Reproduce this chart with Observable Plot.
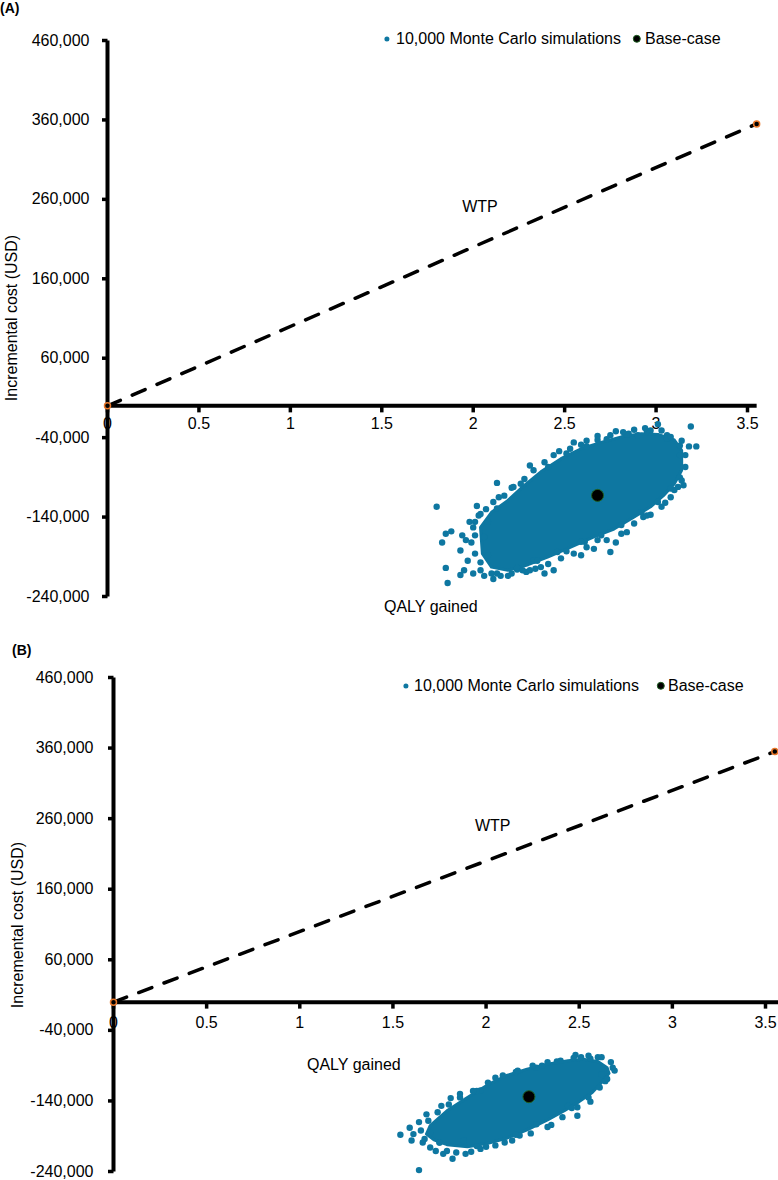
<!DOCTYPE html>
<html>
<head>
<meta charset="utf-8">
<script src="https://cdn.jsdelivr.net/npm/d3@7"></script>
<script src="https://cdn.jsdelivr.net/npm/@observablehq/plot@0.6"></script>
<style>
  body { margin: 0; background: #fff; color: #000; font-family: "Liberation Sans", Arial, sans-serif; }
  #fig { position: relative; width: 778px; height: 1180px; overflow: hidden; background: #fff; }
  #fig svg { position: absolute; left: 0; }
  .lbl { position: absolute; font-size: 16px; line-height: 16px; white-space: nowrap; transform: translateY(-50%); }
  .panel { position: absolute; font-size: 14px; line-height: 14px; font-weight: bold; transform: translateY(-50%); }
  .ytitle { position: absolute; font-size: 16px; line-height: 16px; white-space: nowrap; transform: translate(-50%, -50%) rotate(-90deg); }
  .sw { position: absolute; border-radius: 50%; transform: translate(-50%, -50%); box-sizing: border-box; }
</style>
</head>
<body>
<div id="fig"></div>
<script>
// ---- Axis ticks ----
const qalyTicks = [0, 0.5, 1, 1.5, 2, 2.5, 3, 3.5];
const costTicks = [-240000, -140000, -40000, 60000, 160000, 260000, 360000, 460000];

// ---- Willingness-to-pay threshold line (USD per QALY) ----
const wtpPerQaly = 100000;
const wtpQaly = [0, 3.55];

// ---- Panel A: base case and probabilistic sensitivity analysis cloud ----
const baseA = [2.68, -112700];
// dense core of the 10,000 simulations, outline as [QALY, cost]
const coreA = [
  [2.04, -153000], [2.10, -134000], [2.19, -119000], [2.26, -104000], [2.37, -83000],
  [2.48, -66500], [2.59, -54000], [2.70, -46000], [2.81, -39000], [2.92, -35000],
  [3.01, -36000], [3.10, -43000], [3.14, -56000], [3.14, -81000], [3.10, -98000],
  [3.04, -113000], [2.97, -127000], [2.88, -140000], [2.77, -155000], [2.66, -165000],
  [2.53, -178000], [2.41, -190000], [2.30, -200000], [2.19, -207000], [2.10, -203000],
  [2.05, -186000]
];
// individual simulations around the edge of the cloud
const simsA = [
  [1.80, -127000], [1.85, -161000], [1.88, -158000], [1.83, -172000], [1.93, -182000],
  [1.85, -204000], [1.86, -223000], [1.93, -213000], [1.98, -146000], [2.02, -126000],
  [2.03, -138000], [2.13, -97000], [2.14, -115000], [2.21, -103000], [2.31, -75000],
  [2.47, -57000], [2.55, -46000], [2.62, -44000], [2.68, -38000], [2.78, -32000],
  [2.85, -35000], [2.90, -37000], [2.97, -31000], [3.01, -23000], [3.06, -37000],
  [3.19, -26000], [3.22, -51000], [3.18, -51000], [3.14, -44000], [3.15, -100000],
  [3.10, -106000], [3.05, -122000], [2.97, -137000], [2.93, -140000], [2.84, -159000],
  [2.78, -172000], [2.75, -184000], [2.68, -169000], [2.61, -171000], [2.44, -207000],
  [2.39, -211000], [2.34, -205000], [2.29, -209000], [2.24, -206000], [2.19, -214000],
  [2.11, -218000], [2.06, -214000], [2.00, -211000], [1.95, -207000], [1.97, -195000],
  [1.94, -163000], [1.99, -172000], [2.01, -186000], [2.04, -197000], [2.51, -183000],
  [2.59, -188000], [2.66, -180000], [2.33, -195000],
  [2.26, -98000], [2.41, -77000], [2.51, -60000], [2.62, -51000], [2.73, -42000],
  [2.84, -36000], [2.95, -32000], [3.06, -41000], [3.13, -62000], [3.13, -90000],
  [3.08, -104000], [3.01, -121000], [2.92, -134000], [2.81, -150000], [2.70, -163000],
  [2.59, -171000], [2.46, -184000], [2.35, -195000], [2.24, -204000], [2.13, -211000],
  [2.08, -188000], [2.06, -165000], [2.08, -146000], [2.13, -129000],
  [1.96, -169000], [2.00, -153000], [2.01, -163000], [2.04, -207000], [2.10, -211000],
  [2.15, -214000], [2.21, -211000], [2.27, -207000], [2.31, -207000], [2.37, -203000],
  [2.41, -199000], [2.48, -192000], [2.55, -186000], [2.62, -178000], [2.73, -169000],
  [2.81, -161000], [2.88, -148000], [2.95, -138000], [3.03, -127000], [3.08, -115000],
  [3.12, -102000], [3.14, -94000], [3.16, -77000], [3.16, -62000], [3.13, -50000],
  [3.08, -39000], [3.03, -31000], [2.94, -28000], [2.88, -30000], [2.82, -33000],
  [2.75, -37000], [2.68, -43000], [2.59, -49000], [2.53, -54000], [2.44, -62000],
  [2.39, -71000], [2.33, -81000], [2.28, -92000], [2.22, -102000], [2.17, -113000],
  [2.11, -121000], [2.07, -130000], [2.04, -136000], [2.01, -146000]
];

// ---- Panel B ----
const baseB = [2.23, -134000];
const coreB = [
  [1.68, -187000], [1.70, -175000], [1.79, -154000], [1.90, -135000], [2.01, -117000],
  [2.11, -104000], [2.22, -95000], [2.33, -88000], [2.44, -83000], [2.52, -81000],
  [2.60, -84000], [2.65, -93000], [2.66, -101000], [2.62, -114000], [2.57, -128000],
  [2.50, -141000], [2.42, -154000], [2.33, -167000], [2.22, -181000], [2.11, -193000],
  [2.01, -200000], [1.90, -205000], [1.79, -202000], [1.72, -195000]
];
const simsB = [
  [1.54, -188000], [1.59, -178000], [1.61, -187000], [1.64, -170000], [1.66, -199000],
  [1.68, -159000], [1.73, -211000], [1.76, -147000], [1.81, -136000], [1.86, -130000],
  [1.77, -215000], [1.82, -222000], [1.89, -215000], [1.64, -238000], [2.48, -75000],
  [2.51, -78000], [2.60, -78000], [2.68, -93000], [2.56, -141000], [2.49, -161000],
  [2.35, -174000], [2.18, -189000], [2.10, -199000], [2.00, -205000], [2.05, -107000],
  [1.97, -125000], [2.27, -93000], [2.38, -84000], [2.62, -102000], [2.44, -147000],
  [2.27, -173000], [1.88, -196000], [1.70, -185000],
  [1.95, -126000], [2.16, -99000], [2.30, -90000], [2.56, -80000], [2.64, -112000],
  [2.46, -150000], [2.16, -188000], [1.95, -204000], [1.75, -199000],
  [1.60, -196000], [1.65, -182000], [1.67, -194000], [1.70, -206000], [1.75, -199000],
  [1.79, -211000], [1.84, -213000], [1.92, -212000], [1.97, -208000], [2.05, -203000],
  [2.14, -196000], [2.24, -186000], [2.33, -177000], [2.41, -163000], [2.49, -149000],
  [2.55, -135000], [2.61, -121000], [2.65, -109000], [2.69, -97000], [2.67, -85000],
  [2.62, -78000], [2.55, -76000], [2.47, -79000], [2.40, -83000], [2.33, -85000],
  [2.25, -90000], [2.17, -97000], [2.09, -104000], [2.01, -114000], [1.93, -126000],
  [1.86, -135000], [1.80, -145000], [1.74, -156000], [1.69, -168000]
];

// ---- Styling ----
const FONT = '"Liberation Sans", Arial, sans-serif';
const SIM_COLOR = "#0e77a1";
const BASE_STROKE = "#1f5f22";
const WTP_END = "#e8772a";
const AXIS_W = 4;

const fmt = (v) => v.toLocaleString("en-US");
const wtp = wtpQaly.map((q) => ({ q, cost: q * wtpPerQaly }));

const fig = document.getElementById("fig");

function panel(cfg, core, sims, base) {
  const W = 778;
  const xDomain = [0, 3.5];
  const yDomain = [-240000, 460000];
  // convert a tick length in pixels into data units of each scale
  const xPerPx = (xDomain[1] - xDomain[0]) / (W - cfg.ml - cfg.mr);
  const yPerPx = (yDomain[1] - yDomain[0]) / (cfg.height - cfg.mt - cfg.mb);
  const svg = Plot.plot({
    width: W,
    height: cfg.height,
    marginLeft: cfg.ml, marginRight: cfg.mr, marginTop: cfg.mt, marginBottom: cfg.mb,
    x: { domain: xDomain, axis: null },
    y: { domain: yDomain, axis: null },
    style: { fontFamily: FONT, fontSize: "16px", overflow: "visible", background: "transparent", color: "#000" },
    marks: [
      // axis lines crossing at the origin
      Plot.link([0], { x1: 0, x2: 0, y1: yDomain[0], y2: yDomain[1], stroke: "#000", strokeWidth: AXIS_W, strokeLinecap: "butt" }),
      Plot.link([0], { x1: 0, x2: cfg.xEnd, y1: 0, y2: 0, stroke: "#000", strokeWidth: AXIS_W, strokeLinecap: "butt" }),
      // short tick marks: below the QALY axis, left of the cost axis
      Plot.link(qalyTicks, { x1: (d) => d, x2: (d) => d, y1: 0, y2: -6.5 * yPerPx, stroke: "#000", strokeWidth: 3.5, strokeLinecap: "butt" }),
      Plot.link(costTicks, { y1: (d) => d, y2: (d) => d, x1: 0, x2: -5.5 * xPerPx, stroke: "#000", strokeWidth: 3.5, strokeLinecap: "butt" }),
      // tick labels
      Plot.text(qalyTicks, { x: (d) => d, y: 0, dy: cfg.xLabelDy, text: (d) => String(d), fontSize: 16, fontFamily: FONT, fill: "#000" }),
      Plot.text(costTicks, { x: 0, y: (d) => d, dx: cfg.yLabelDx, text: fmt, textAnchor: "end", fontSize: 16, fontFamily: FONT, fill: "#000" }),
      // Monte Carlo cloud
      Plot.line(core, { x: (d) => d[0], y: (d) => d[1], curve: "linear-closed", fill: SIM_COLOR, stroke: SIM_COLOR, strokeWidth: 3, strokeLinejoin: "round" }),
      Plot.dot(sims, { x: (d) => d[0], y: (d) => d[1], r: 3.2, fill: SIM_COLOR }),
      // base case
      Plot.dot([base], { x: (d) => d[0], y: (d) => d[1], r: 6, fill: "#000", stroke: BASE_STROKE, strokeWidth: 1 }),
      // willingness-to-pay threshold
      Plot.line(wtp, { x: "q", y: "cost", stroke: "#000", strokeWidth: 3.5, strokeDasharray: "14,13" }),
      Plot.dot(wtp, { x: "q", y: "cost", r: 3, fill: "#000", stroke: WTP_END, strokeWidth: 1.5 }),
      Plot.text(["WTP"], { x: 1.94, y: 250000, text: (d) => d, textAnchor: "start", fontSize: 16, fontFamily: FONT, fill: "#000" })
    ]
  });
  svg.style.top = cfg.top + "px";
  fig.appendChild(svg);
}

panel({ top: 0, height: 620, ml: 107, mr: 31, mt: 40, mb: 24, xEnd: 3.55, xLabelDy: 18.5, yLabelDx: -18 }, coreA, simsA, baseA);
panel({ top: 620, height: 560, ml: 113, mr: 13, mt: 57, mb: 9, xEnd: 3.57, xLabelDy: 21, yLabelDx: -20 }, coreB, simsB, baseB);

// ---- Panel letters, axis titles and legends ----
function addText(cls, text, left, top) {
  const el = document.createElement("div");
  el.className = cls;
  el.textContent = text;
  el.style.left = left + "px";
  el.style.top = top + "px";
  fig.appendChild(el);
  return el;
}
function addSwatch(cx, cy, r, fill, stroke) {
  const el = document.createElement("div");
  el.className = "sw";
  el.style.left = cx + "px";
  el.style.top = cy + "px";
  el.style.width = 2 * r + "px";
  el.style.height = 2 * r + "px";
  el.style.background = fill;
  if (stroke) el.style.border = "1px solid " + stroke;
  fig.appendChild(el);
}

const legendSims = "10,000 Monte Carlo simulations";
const legendBase = "Base-case";
const yTitle = "Incremental cost (USD)";
const xTitle = "QALY gained";

// panel A
addText("panel", "(A)", 0, 8);
addText("ytitle", yTitle, 12, 318);
addText("lbl", xTitle, 384, 607);
addSwatch(387, 39, 2.6, SIM_COLOR);
addText("lbl", legendSims, 396, 39);
addSwatch(637, 39, 4.2, "#000", BASE_STROKE);
addText("lbl", legendBase, 645, 39);

// panel B
addText("panel", "(B)", 12, 650);
addText("ytitle", yTitle, 18, 925);
addText("lbl", xTitle, 307, 1065);
addSwatch(406, 686, 2.6, SIM_COLOR);
addText("lbl", legendSims, 414, 686);
addSwatch(661, 686, 4.2, "#000", BASE_STROKE);
addText("lbl", legendBase, 668, 686);
</script>
</body>
</html>
